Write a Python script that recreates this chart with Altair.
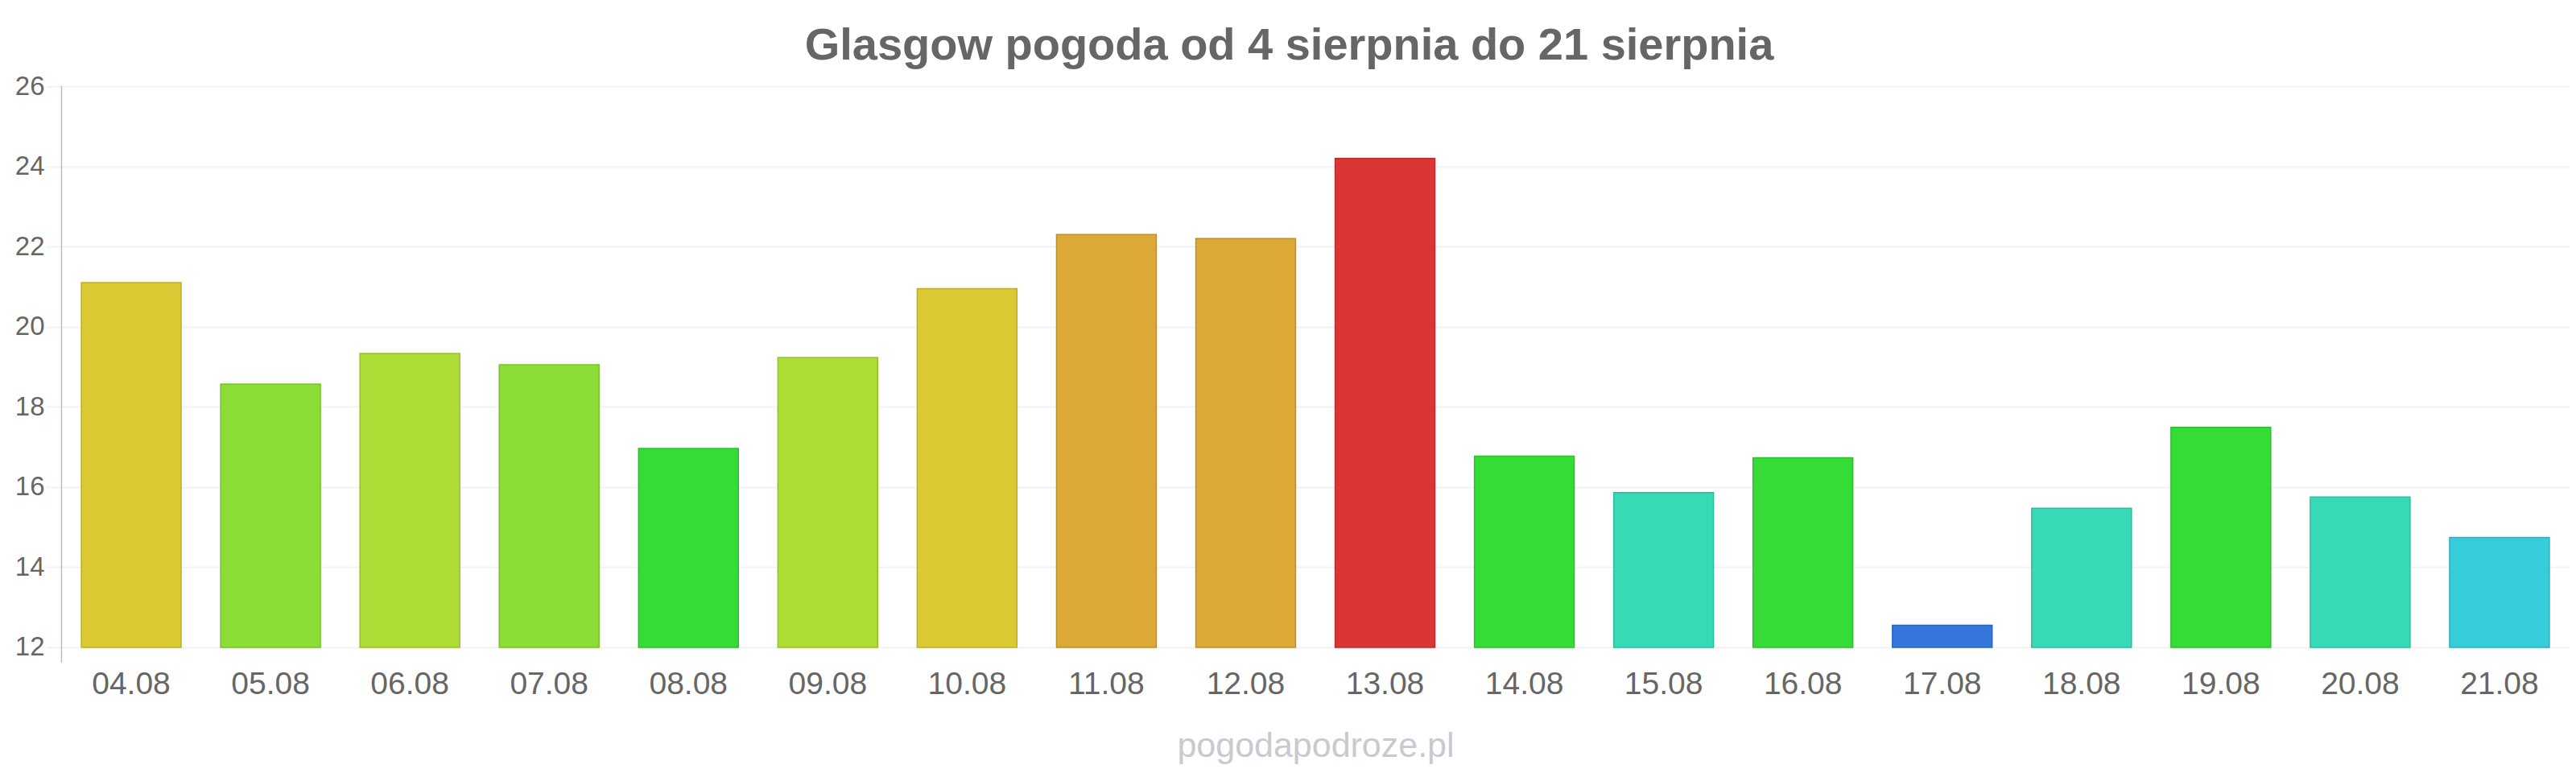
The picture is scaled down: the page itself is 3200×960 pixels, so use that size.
import altair as alt
import pandas as pd

# ---- data ----
dates = ["04.08", "05.08", "06.08", "07.08", "08.08", "09.08", "10.08", "11.08", "12.08",
         "13.08", "14.08", "15.08", "16.08", "17.08", "18.08", "19.08", "20.08", "21.08"]
temps = [21.1, 18.57, 19.33, 19.05, 16.96, 19.23, 20.95, 22.3, 22.2,
         24.2, 16.77, 15.86, 16.73, 12.55, 15.47, 17.49, 15.75, 14.74]
colors = ["#dbca34", "#8ddd37", "#aedd35", "#8ddd37", "#36dc36", "#aedd35", "#dbca34", "#dca836", "#dca836",
          "#db3535", "#36dc36", "#36dbb6", "#36dc36", "#3677db", "#36dbb6", "#36dc36", "#36dbb6", "#36cddb"]
y_ticks = [12, 14, 16, 18, 20, 22, 24, 26]
Y_MIN, Y_MAX = 12, 26
TITLE = "Glasgow pogoda od 4 sierpnia do 21 sierpnia"
SOURCE = "pogodapodroze.pl"
FONT = "Liberation Sans"


def darker(hex_color, f=0.86):
    h = hex_color.lstrip("#")
    r, g, b = (int(h[i:i + 2], 16) for i in (0, 2, 4))
    return "#%02x%02x%02x" % (int(r * f), int(g * f), int(b * f))


strokes = [darker(c) for c in colors]

df = pd.DataFrame({"date": dates, "temp": temps})

W, H = 3117, 697

bars = alt.Chart(df).mark_bar(strokeWidth=1.5).encode(
    x=alt.X(
        "date:N",
        sort=dates,
        scale=alt.Scale(paddingInner=0.284, paddingOuter=0.145),
        axis=alt.Axis(
            title=SOURCE,
            labelAngle=0,
            labelFont=FONT,
            labelFontSize=39,
            labelColor="#666666",
            labelPadding=27,
            ticks=False,
            domain=False,
            grid=False,
            titleFont=FONT,
            titleFontSize=43,
            titleFontWeight="normal",
            titleColor="#c9c9d0",
            titlePadding=70,
            titleBaseline="alphabetic",
        ),
    ),
    y=alt.Y(
        "temp:Q",
        scale=alt.Scale(domain=[Y_MIN, Y_MAX], nice=False, zero=False),
        axis=alt.Axis(
            values=y_ticks,
            title=None,
            domain=False,
            tickSize=19,
            tickColor="#f2f2f2",
            tickWidth=2,
            grid=True,
            gridColor="#f2f2f2",
            gridWidth=2,
            labelFont=FONT,
            labelFontSize=33,
            labelColor="#666666",
            labelPadding=2,
        ),
    ),
    y2=alt.datum(Y_MIN),
    color=alt.Color("date:N", scale=alt.Scale(domain=dates, range=colors), legend=None),
    stroke=alt.Stroke("date:N", scale=alt.Scale(domain=dates, range=strokes), legend=None),
)

axis_line = alt.Chart(alt.Data(values=[{}])).mark_rule(color="#bdbdbd", strokeWidth=1.5).encode(
    x=alt.value(0.5), y=alt.value(0), y2=alt.value(H + 19)
)

title = alt.Chart(alt.Data(values=[{"t": TITLE}])).mark_text(
    font=FONT, fontSize=56, fontWeight="bold", color="#666666",
    align="center", baseline="alphabetic",
).encode(text="t:N", x=alt.value(1526), y=alt.value(-33))

chart = alt.layer(axis_line, bars, title).properties(
    width=W,
    height=H,
    autosize=alt.AutoSizeParams(type="none"),
    padding={"left": 68, "top": 99, "right": 0, "bottom": 146},
    background="white",
).configure_view(strokeWidth=0)

chart.save("out.html", embed_options={"renderer": "svg", "actions": False})
